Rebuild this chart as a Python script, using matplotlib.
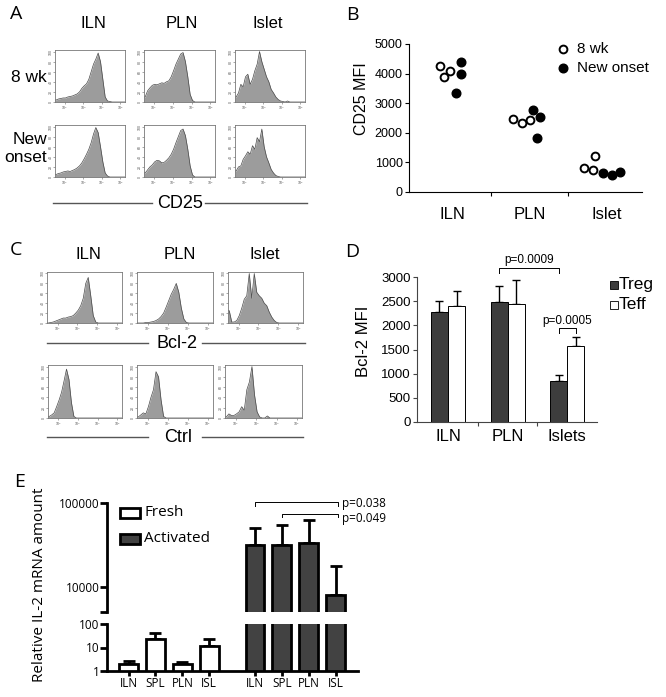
import matplotlib
matplotlib.use('Agg')
import matplotlib.pyplot as plt
import matplotlib.transforms as mtransforms
from matplotlib.patches import Rectangle
from matplotlib.lines import Line2D
import numpy as np

plt.rcParams['font.family'] = ['Liberation Sans', 'DejaVu Sans']

# ---------------- data ----------------
hist_cols = ['ILN', 'PLN', 'Islet']

# panel A: CD25 histograms (normalised counts, 30 bins on the log axis)
a_iln_8wk = [0.04, 0.06, 0.07, 0.08, 0.08, 0.10, 0.11, 0.12, 0.14, 0.16, 0.20, 0.27, 0.32, 0.36, 0.45,
             0.60, 0.75, 0.85, 0.97, 0.80, 0.45, 0.10, 0.02, 0.01, 0, 0, 0, 0, 0, 0]
a_pln_8wk = [0.10, 0.22, 0.28, 0.33, 0.35, 0.34, 0.36, 0.38, 0.37, 0.40, 0.42, 0.50, 0.62, 0.75, 0.85,
             0.95, 0.98, 0.80, 0.50, 0.15, 0.03, 0, 0, 0, 0, 0, 0, 0, 0, 0]
a_isl_8wk = [0.10, 0.18, 0.35, 0.30, 0.50, 0.55, 0.35, 0.45, 0.62, 0.75, 1.00, 0.80, 0.65, 0.50, 0.40,
             0.25, 0.18, 0.10, 0.05, 0.02, 0.01, 0, 0.02, 0, 0, 0, 0, 0, 0, 0]
a_iln_new = [0.05, 0.07, 0.08, 0.10, 0.11, 0.12, 0.11, 0.13, 0.15, 0.18, 0.22, 0.28, 0.36, 0.45, 0.55,
             0.68, 0.85, 0.98, 0.88, 0.60, 0.30, 0.08, 0.02, 0, 0, 0, 0, 0, 0, 0]
a_pln_new = [0.08, 0.14, 0.20, 0.24, 0.30, 0.33, 0.32, 0.28, 0.29, 0.33, 0.38, 0.45, 0.55, 0.68, 0.80,
             0.92, 0.95, 0.82, 0.55, 0.22, 0.04, 0, 0, 0, 0, 0, 0, 0, 0, 0]
a_isl_new = [0.12, 0.20, 0.22, 0.35, 0.42, 0.50, 0.45, 0.62, 0.55, 0.78, 0.70, 0.95, 0.60, 0.40, 0.28,
             0.15, 0.08, 0.03, 0.01, 0, 0, 0, 0, 0, 0, 0, 0, 0, 0, 0]

# panel C: Bcl-2 and control histograms
c_iln_bcl = [0, 0.01, 0.02, 0.04, 0.06, 0.08, 0.10, 0.10, 0.12, 0.13, 0.15, 0.20, 0.26, 0.35, 0.50,
             0.80, 0.92, 0.55, 0.15, 0.02, 0, 0, 0, 0, 0, 0, 0, 0, 0, 0]
c_pln_bcl = [0, 0, 0, 0.01, 0.01, 0.02, 0.03, 0.05, 0.08, 0.13, 0.20, 0.32, 0.45, 0.58, 0.68,
             0.80, 0.62, 0.30, 0.08, 0.01, 0, 0, 0, 0, 0, 0, 0, 0, 0, 0]
c_isl_bcl = [0.25, 0.02, 0.02, 0.05, 0.15, 0.30, 0.48, 0.55, 1.00, 0.50, 1.00, 0.62, 0.55, 0.50, 0.40,
             0.35, 0.22, 0.12, 0.05, 0.01, 0, 0, 0, 0, 0, 0, 0, 0, 0, 0]
c_iln_ctl = [0.03, 0.06, 0.10, 0.22, 0.35, 0.50, 0.72, 0.95, 0.75, 0.30, 0.03, 0, 0, 0, 0,
             0, 0, 0, 0, 0, 0, 0, 0, 0, 0, 0, 0, 0, 0, 0]
c_pln_ctl = [0.02, 0.06, 0.10, 0.08, 0.22, 0.40, 0.55, 0.90, 0.80, 0.35, 0.03, 0, 0, 0, 0,
             0, 0, 0, 0, 0, 0, 0, 0, 0, 0, 0, 0, 0, 0, 0]
c_isl_ctl = [0.02, 0.08, 0.05, 0.05, 0.08, 0.12, 0.22, 0.15, 0.55, 0.70, 1.00, 0.45, 0.12, 0.02, 0,
             0, 0.04, 0, 0, 0, 0, 0, 0, 0, 0, 0, 0, 0, 0, 0]

# panel B: CD25 MFI
b_groups = ['ILN', 'PLN', 'Islet']
b_8wk_mfi = [[4260, 3880, 4080], [2460, 2330, 2440], [810, 730, 1200]]
b_8wk_jit = [[-0.155, -0.11, -0.02], [-0.22, -0.10, 0.0], [-0.30, -0.18, -0.15]]
b_new_mfi = [[4400, 3990, 3340], [2780, 2520, 1820], [640, 560, 670]]
b_new_jit = [[0.12, 0.12, 0.05], [0.05, 0.13, 0.09], [-0.05, 0.06, 0.17]]

# panel D: Bcl-2 MFI
d_groups = ['ILN', 'PLN', 'Islets']
d_treg = [2270, 2480, 855]
d_treg_sd = [240, 330, 115]
d_teff = [2405, 2440, 1565]
d_teff_sd = [305, 500, 185]

# panel E: relative IL-2 mRNA
e_tissues = ['ILN', 'SPL', 'PLN', 'ISL']
e_fresh = [1.95, 22, 1.9, 11.8]
e_fresh_err = [0.65, 18, 0.6, 11]
e_act = [31900, 31300, 33400, 7960]
e_act_err = [18500, 23900, 29900, 9640]

# ---------------- layout helpers (pixel based) ----------------
W, H = 666, 697
fig = plt.figure(figsize=(W / 100, H / 100), dpi=100)


def rect(x0, y0, x1, y1):
    return [x0 / W, 1 - y1 / H, (x1 - x0) / W, (y1 - y0) / H]


def ftext(x, y, s, **kw):
    kw.setdefault('ha', 'center')
    kw.setdefault('va', 'center')
    fig.text(x / W, 1 - y / H, s, **kw)


def fline(x0, x1, y, color='#555555', lw=1.0):
    fig.add_artist(Line2D([x0 / W, x1 / W], [1 - y / H, 1 - y / H], color=color, lw=lw))


def draw_hist(box, h):
    ax = fig.add_axes(rect(*box))
    n = len(h)
    xs = np.concatenate([[0], (np.arange(n) + 0.5) / n, [1]])
    ys = np.concatenate([[h[0]], h, [h[-1]]])
    ax.fill_between(xs, ys, color='#9c9c9c', lw=0)
    ax.plot(xs, ys, color='#4a4a4a', lw=0.5)
    ax.set_xlim(0, 1)
    ax.set_ylim(0, 1.03)
    for s in ax.spines.values():
        s.set_color('#777777')
        s.set_linewidth(0.6)
    ax.set_xticks([0.14, 0.405, 0.67, 0.935])
    ax.set_xticklabels(['10$^2$', '10$^3$', '10$^4$', '10$^5$'], fontsize=2.5, color='#555555')
    ax.set_yticks([0, 0.2, 0.4, 0.6, 0.8, 1.0])
    ax.set_yticklabels(['0', '20', '40', '60', '80', '100'], fontsize=2.5, color='#555555', rotation=90,
                       va='center')
    ax.tick_params(length=1.2, width=0.4, pad=0.5, color='#666666')
    return ax


letter_kw = dict(fontsize=14, family=['Open Sans', 'DejaVu Sans'])

# ---------------- panel A ----------------
ftext(16, 14, 'A', **letter_kw)
for x, s in zip([93, 182, 268], hist_cols):
    ftext(x, 23, s, fontsize=12)
ftext(47, 78, '8 wk', fontsize=12.5, ha='right')
ftext(47, 148, 'New\nonset', fontsize=12.5, ha='right', multialignment='right', linespacing=1.25)
a_cols_x = [(55, 125), (144, 215), (235, 305)]
for (x0, x1), h in zip(a_cols_x, [a_iln_8wk, a_pln_8wk, a_isl_8wk]):
    draw_hist((x0, 50, x1, 102), h)
for (x0, x1), h in zip(a_cols_x, [a_iln_new, a_pln_new, a_isl_new]):
    draw_hist((x0, 125, x1, 177), h)
fline(53, 152, 203)
ftext(180, 203, 'CD25', fontsize=13)
fline(205, 307, 203)

# ---------------- panel C ----------------
ftext(16, 250, 'C', **letter_kw)
for x, s in zip([88, 180, 265], hist_cols):
    ftext(x, 254, s, fontsize=12)
c_cols_x = [(47, 122), (137, 213), (228, 303)]
for (x0, x1), h in zip(c_cols_x, [c_iln_bcl, c_pln_bcl, c_isl_bcl]):
    draw_hist((x0, 272, x1, 323), h)
for (x0, x1), h in zip([(48, 122), (137, 213), (225, 302)], [c_iln_ctl, c_pln_ctl, c_isl_ctl]):
    draw_hist((x0, 365, x1, 418), h)
fline(47, 148, 343)
ftext(177, 343, 'Bcl-2', fontsize=13)
fline(202, 305, 343)
fline(47, 148, 437)
ftext(178, 438, 'Ctrl', fontsize=13)
fline(202, 303, 437)

# ---------------- panel B ----------------
ftext(352, 15, 'B', **letter_kw)
axb = fig.add_axes(rect(409, 44, 642, 192))
for i in range(len(b_groups)):
    axb.plot(np.array(b_8wk_jit[i]) + i, b_8wk_mfi[i], 'o', ms=5.6, mfc='white', mec='black', mew=1.4,
             clip_on=False, zorder=3)
    axb.plot(np.array(b_new_jit[i]) + i, b_new_mfi[i], 'o', ms=6.2, mfc='black', mec='black',
             clip_on=False, zorder=3)
axb.set_xlim(-0.555, 2.45)
axb.set_ylim(0, 5000)
axb.set_yticks(np.arange(0, 5001, 1000))
axb.set_xticks(range(len(b_groups)))
axb.set_xticklabels(b_groups, fontsize=12)
axb.set_xticks([0.5, 1.5], minor=True)
axb.tick_params(axis='x', which='major', length=0, pad=11)
axb.tick_params(axis='x', which='minor', length=3, width=0.8)
axb.tick_params(axis='y', length=3, width=0.8, labelsize=9, pad=1.5)
for s in ['top', 'right']:
    axb.spines[s].set_visible(False)
for s in ['left', 'bottom']:
    axb.spines[s].set_linewidth(0.8)
ftext(362, 99, 'CD25 MFI', fontsize=11.5, rotation=90)
# legend
axb.plot([0.661], [0.965], 'o', ms=5.6, mfc='white', mec='black', mew=1.4, transform=axb.transAxes,
         clip_on=False)
axb.plot([0.661], [0.838], 'o', ms=6.2, mfc='black', mec='black', transform=axb.transAxes, clip_on=False)
ftext(577, 49, '8 wk', fontsize=11, ha='left')
ftext(577, 68, 'New onset', fontsize=11, ha='left')

# ---------------- panel D ----------------
ftext(352, 252, 'D', **letter_kw)
axd = fig.add_axes(rect(417, 277, 597, 422))
xd = np.arange(len(d_groups))
bw = 0.286
axd.bar(xd - bw / 2, d_treg, bw, color='#3d3d3d', edgecolor='black', lw=0.7, zorder=2)
axd.bar(xd + bw / 2, d_teff, bw, color='white', edgecolor='black', lw=0.7, zorder=2)
axd.errorbar(xd - bw / 2, d_treg, yerr=[np.zeros(3), d_treg_sd], fmt='none', ecolor='black', elinewidth=1,
             capsize=3.2, capthick=1, zorder=1)
axd.errorbar(xd + bw / 2, d_teff, yerr=[np.zeros(3), d_teff_sd], fmt='none', ecolor='black', elinewidth=1,
             capsize=3.2, capthick=1, zorder=1)
axd.set_xlim(-0.52, 2.5)
axd.set_ylim(0, 3000)
axd.set_yticks(np.arange(0, 3001, 500))
axd.set_xticks(xd)
axd.set_xticklabels(d_groups, fontsize=12)
axd.set_xticks([0.5, 1.5], minor=True)
axd.tick_params(axis='x', which='major', length=0, pad=5)
axd.tick_params(axis='x', which='minor', length=3, width=0.8, color='#444444')
axd.tick_params(axis='y', length=3, width=0.8, labelsize=9.5, pad=1.5, color='#444444')
for s in ['top', 'right']:
    axd.spines[s].set_visible(False)
for s in ['left', 'bottom']:
    axd.spines[s].set_linewidth(0.8)
    axd.spines[s].set_color('#444444')
ftext(363, 341, 'Bcl-2 MFI', fontsize=12, rotation=90)
# significance brackets
xa, xb = 1 - bw / 2, 2 - bw / 2
axd.plot([xa, xa, xb, xb], [3083, 3186, 3186, 3083], color='black', lw=0.7, clip_on=False)
axd.text((xa + xb) / 2, 3352, 'p=0.0009', ha='center', va='center', fontsize=8.5)
xa, xb = 2 - bw / 2, 2 + bw / 2
axd.plot([xa, xa, xb, xb], [1841, 1945, 1945, 1841], color='black', lw=0.7, clip_on=False)
axd.text(2, 2090, 'p=0.0005', ha='center', va='center', fontsize=8.5)
# legend
fig.add_artist(Rectangle((610 / W, 1 - 289 / H), 8 / W, 8 / H, facecolor='#3d3d3d', edgecolor='black',
                         lw=0.6))
fig.add_artist(Rectangle((610 / W, 1 - 309 / H), 8 / W, 8 / H, facecolor='white', edgecolor='black',
                         lw=0.6))
ftext(619, 285, 'Treg', fontsize=12.5, ha='left')
ftext(619, 305, 'Teff', fontsize=12.5, ha='left')

# ---------------- panel E ----------------
ftext(20, 482, 'E', **letter_kw)
e_kw = dict(family=['Open Sans', 'DejaVu Sans'])
xf = np.arange(4)
xa_ = np.arange(4) + 4.7
ew = 0.7
axe_top = fig.add_axes(rect(107, 503, 358, 612))
axe_bot = fig.add_axes(rect(107, 624, 358, 671))
for ax in (axe_top, axe_bot):
    ax.bar(xf, e_fresh, ew, bottom=0.001, color='white', edgecolor='black', lw=2, zorder=2)
    ax.bar(xa_, e_act, ew, bottom=0.001, color='#424242', edgecolor='black', lw=2, zorder=2)
    ax.errorbar(xf, e_fresh, yerr=[np.zeros(4), e_fresh_err], fmt='none', ecolor='black', elinewidth=2,
                capsize=4.5, capthick=2, zorder=1)
    ax.errorbar(xa_, e_act, yerr=[np.zeros(4), e_act_err], fmt='none', ecolor='black', elinewidth=2,
                capsize=4.5, capthick=2, zorder=1)
    ax.set_yscale('log')
    ax.set_xlim(-0.8, 8.53)
    for s in ['top', 'right']:
        ax.spines[s].set_visible(False)
    ax.spines['left'].set_linewidth(2)
    ax.spines['bottom'].set_linewidth(2)
    ax.tick_params(axis='y', which='major', length=5, width=2, labelsize=8.5, pad=0.5)
    ax.tick_params(axis='y', which='minor', length=0)

axe_top.set_ylim(5000, 100000)
axe_top.set_yticks([5000, 10000, 100000])
axe_top.set_yticklabels(['', '10000', '100000'], **e_kw)
axe_top.spines['bottom'].set_visible(False)
axe_top.set_xticks([])

axe_bot.set_ylim(1, 100)
axe_bot.set_yticks([1, 10, 100])
axe_bot.set_yticklabels(['1', '10', '100'], **e_kw)
axe_bot.set_xticks(np.concatenate([xf, xa_]))
axe_bot.set_xticklabels(e_tissues + e_tissues, fontsize=8.5, **e_kw)
axe_bot.tick_params(axis='x', length=3.5, width=2, pad=1)

ftext(40, 585, 'Relative IL-2 mRNA amount', fontsize=11, rotation=90, **e_kw)

# brackets for p values (x in data units, y in axes fraction)
tr = mtransforms.blended_transform_factory(axe_top.transData, axe_top.transAxes)
axe_top.plot([xa_[0], xa_[0], xa_[3] + 0.1, xa_[3] + 0.1], [0.972, 1.009, 1.009, 0.972], color='black', lw=0.7,
             transform=tr, clip_on=False)
axe_top.plot([xa_[1], xa_[1], xa_[3] + 0.1, xa_[3] + 0.1], [0.872, 0.899, 0.899, 0.872], color='black', lw=0.7,
             transform=tr, clip_on=False)
axe_top.text(7.93, 1.0, 'p=0.038', transform=tr, ha='left', va='center', fontsize=8.5, **e_kw)
axe_top.text(7.93, 0.862, 'p=0.049', transform=tr, ha='left', va='center', fontsize=8.5, **e_kw)

# legend
axe_top.add_patch(Rectangle((0.052, 0.862), 0.08, 0.092, facecolor='white', edgecolor='black', lw=2,
                            transform=axe_top.transAxes, clip_on=False))
axe_top.add_patch(Rectangle((0.052, 0.624), 0.08, 0.092, facecolor='#424242', edgecolor='black', lw=2,
                            transform=axe_top.transAxes, clip_on=False))
ftext(144, 513, 'Fresh', fontsize=11, ha='left', **e_kw)
ftext(144, 539, 'Activated', fontsize=11, ha='left', **e_kw)

fig.savefig('out.png', dpi=100, facecolor='white')
